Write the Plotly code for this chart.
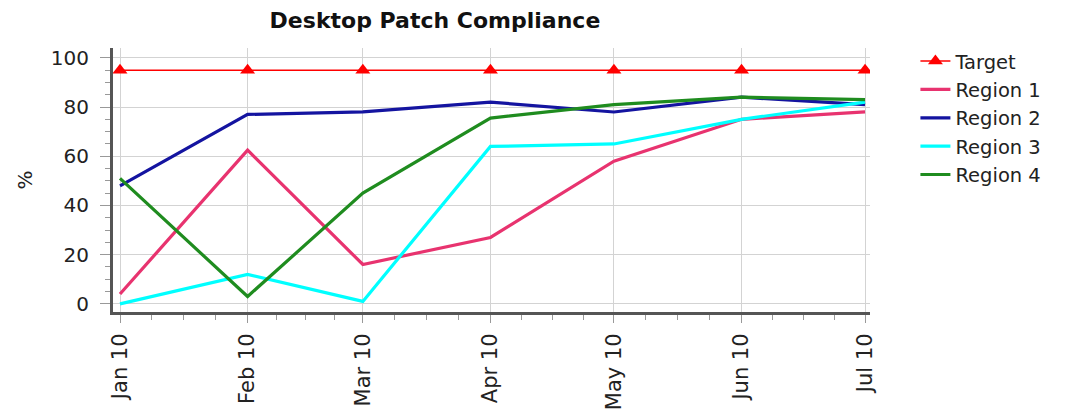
import plotly.graph_objects as go
import pandas as pd

months = ["2010-01-01", "2010-02-01", "2010-03-01", "2010-04-01",
          "2010-05-01", "2010-06-01", "2010-07-01"]
target = [95, 95, 95, 95, 95, 95, 95]
region1 = [4, 62.5, 16, 27, 58, 75, 78]
region2 = [48, 77, 78, 82, 78, 84, 81]
region3 = [0, 12, 1, 64, 65, 75, 82]
region4 = [51, 3, 45, 75.5, 81, 84, 83]

FONT = "DejaVu Sans"

fig = go.Figure()
fig.add_trace(go.Scatter(x=months, y=target, name="Target", mode="lines+markers",
                         line=dict(color="#FF0000", width=1.5),
                         marker=dict(symbol="triangle-up", size=13, color="#FF0000"),
                         legendgroup="t"))
series = [("Region 1", region1, "#E8336F"),
          ("Region 2", region2, "#1414A0"),
          ("Region 3", region3, "#00FFFF"),
          ("Region 4", region4, "#1F8C1F")]
for nm, vals, col in series:
    fig.add_trace(go.Scatter(x=months, y=vals, name=nm, mode="lines",
                             line=dict(color=col, width=3.2), legendgroup=nm))

# minor tick positions: quarter-month steps
mdates = pd.to_datetime(months)
minor_vals = []
for a, b in zip(mdates[:-1], mdates[1:]):
    for f in (0.25, 0.5, 0.75):
        minor_vals.append((a + (b - a) * f).strftime("%Y-%m-%d %H:%M"))

fig.update_layout(
    width=1082, height=414,
    margin=dict(l=105, r=220, t=40, b=110),
    paper_bgcolor="white", plot_bgcolor="white",
    font=dict(family=FONT, size=20, color="#222"),
    title=dict(text="<b>Desktop Patch Compliance</b>", x=0.3946, xref="container",
               xanchor="center", y=0.9698, yref="container", yanchor="middle",
               font=dict(family=FONT, size=22, color="#111")),
    legend=dict(x=1.06, y=1.023, xanchor="left", yanchor="top",
                font=dict(family=FONT, size=19.5, color="#222"),
                tracegroupgap=0, bgcolor="rgba(0,0,0,0)"),
    showlegend=True,
)
fig.update_xaxes(
    type="date",
    range=["2009-12-30 07:12", "2010-07-02 05:00"],
    tickvals=months, tickformat="%b %y", tickangle=-90,
    showgrid=True, gridcolor="#D3D3D3", gridwidth=1,
    showline=True, linecolor="#555555", linewidth=3,
    ticks="outside", ticklen=8, tickcolor="#999999", tickwidth=1,
    ticklabelstandoff=2,
    minor=dict(tickmode="array", tickvals=minor_vals, ticks="outside",
               ticklen=5, tickcolor="#999999", showgrid=False),
    zeroline=False,
    tickfont=dict(family=FONT, size=21, color="#222"),
)
fig.update_yaxes(
    range=[-3.3, 104],
    tickvals=[0, 20, 40, 60, 80, 100],
    showgrid=True, gridcolor="#D3D3D3", gridwidth=1,
    showline=True, linecolor="#555555", linewidth=3,
    ticks="outside", ticklen=10, tickcolor="#999999", tickwidth=1,
    ticklabelstandoff=7,
    minor=dict(dtick=5, tick0=0, ticks="outside", ticklen=5,
               tickcolor="#999999", showgrid=False),
    zeroline=False,
    title=dict(text="%", standoff=13, font=dict(family=FONT, size=20, color="#222")),
    tickfont=dict(family=FONT, size=20, color="#222"),
)

fig.write_html("out.html", config={"displayModeBar": False})
